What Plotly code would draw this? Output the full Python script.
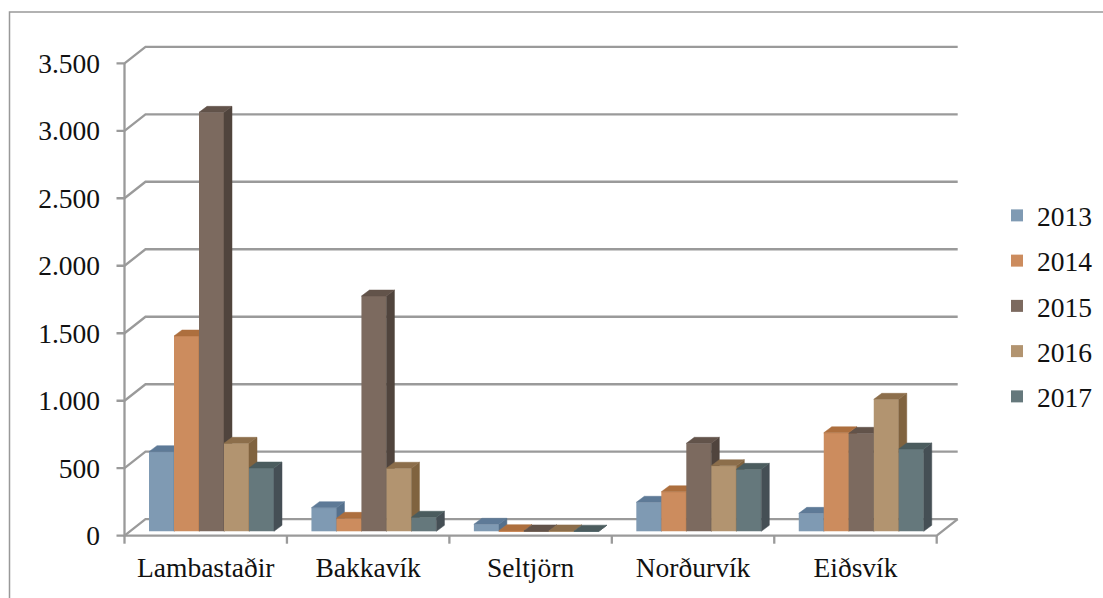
import plotly.graph_objects as go

categories = ["Lambastaðir", "Bakkavík", "Seltjörn", "Norðurvík", "Eiðsvík"]
years = ["2013", "2014", "2015", "2016", "2017"]
v2013 = [590, 175, 52, 215, 133]
v2014 = [1447, 96, 5, 293, 730]
v2015 = [3104, 1743, 3, 652, 726]
v2016 = [652, 467, 3, 486, 978]
v2017 = [469, 104, 1, 459, 610]
series = [v2013, v2014, v2015, v2016, v2017]
tick_vals = [0, 500, 1000, 1500, 2000, 2500, 3000, 3500]
tick_text = ["0", "500", "1.000", "1.500", "2.000", "2.500", "3.000", "3.500"]

front = ["#7F9AB3", "#CC8C5E", "#7C6A5F", "#B29470", "#65787C"]
tops = ["#5E7A97", "#AD6F3E", "#62534A", "#8C6E4B", "#4B5C5E"]
sides = ["#55708C", "#A0683A", "#50443D", "#80633F", "#454F55"]

W, H = 1103, 598
L, R, T, B = 124.5, 936.7, 63.3, 535.7   # front plane of the chart, in pixels
AL, AR, AT, AB = 116.0, 960.0, 44.0, 545.0  # plot area, includes back wall and tick stubs
PX_X = 5 / (R - L)
PX_Y = 3500 / (B - T)
GRID = "#9A9A9A"
TEXT = "#111111"
FONT = "Liberation Serif"
FS = 27.5

x_range = [-0.5 - (L - AL) * PX_X, 4.5 + (AR - R) * PX_X]
y_range = [-(AB - B) * PX_Y, 3500 + (T - AT) * PX_Y]

wall_dx, wall_dy = 21 * PX_X, 16.5 * PX_Y   # back wall offset
bar_dx, bar_dy = 8 * PX_X, 6 * PX_Y         # bar depth
floor = 4.4 * PX_Y                          # bars stand in the middle of the floor
bar_w = 25 * PX_X
start = -0.5 + 24.5 * PX_X
stub_x, stub_y = 8 * PX_X, 8 * PX_Y

fig = go.Figure()

# wall grid with its diagonal returns, axis lines and tick stubs
gx, gy = [], []
for v in tick_vals:
    gx += [-0.5 - stub_x, -0.5, -0.5 + wall_dx, 4.5 + wall_dx, None]
    gy += [v, v, v + wall_dy, v + wall_dy, None]
gx += [4.5 + wall_dx, 4.5, -0.5, -0.5, None]
gy += [wall_dy, 0, 0, 3500, None]
for b in [-0.5, 0.5, 1.5, 2.5, 3.5, 4.5]:
    gx += [b, b, None]
    gy += [0, -stub_y, None]
fig.add_trace(go.Scatter(x=gx, y=gy, mode="lines", line=dict(color=GRID, width=2.3),
                         showlegend=False, hoverinfo="skip"))

# each series sits on its own overlaid axes so that it paints over the one before it
for s, vals in enumerate(series):
    xa, ya = f"x{s + 2}", f"y{s + 2}"
    xs = [i + start + (s + 0.5) * bar_w for i in range(len(categories))]
    fig.add_trace(go.Bar(x=xs, y=vals, base=floor, width=bar_w, name=years[s], opacity=1,
                         marker=dict(color=front[s], opacity=1, line=dict(width=0)),
                         xaxis=xa, yaxis=ya, legendgroup=years[s]))
    sx, sy, tx, ty = [], [], [], []
    for x, v in zip(xs, vals):
        x1 = x + bar_w / 2
        x0 = x - bar_w / 2
        y1 = floor + v
        sx += [x1, x1 + bar_dx, x1 + bar_dx, x1, x1, None]
        sy += [floor, floor + bar_dy, y1 + bar_dy, y1, floor, None]
        tx += [x0, x0 + bar_dx, x1 + bar_dx, x1, x0, None]
        ty += [y1, y1 + bar_dy, y1 + bar_dy, y1, y1, None]
    for px, py, col in ((sx, sy, sides[s]), (tx, ty, tops[s])):
        fig.add_trace(go.Scatter(x=px, y=py, mode="lines", fill="toself", fillcolor=col,
                                 line=dict(color=col, width=0.5), showlegend=False,
                                 hoverinfo="skip", xaxis=xa, yaxis=ya))

pw, ph = AR - AL, AB - AT
layout = dict(
    width=W, height=H, autosize=False,
    margin=dict(l=AL, r=W - AR, t=AT, b=H - AB, pad=0, autoexpand=False),
    paper_bgcolor="white", plot_bgcolor="rgba(0,0,0,0)",
    barmode="group", showlegend=True,
    font=dict(family=FONT, size=FS, color=TEXT),
    legend=dict(x=(997 - AL) / pw, xanchor="left", y=(AB - 191) / ph, yanchor="top",
                font=dict(family=FONT, size=FS, color=TEXT), traceorder="grouped",
                tracegroupgap=6.5, itemwidth=30, bgcolor="rgba(0,0,0,0)"),
    xaxis=dict(range=x_range, tickmode="array", tickvals=list(range(5)), ticktext=categories,
               ticks="", showgrid=False, zeroline=False, showline=False,
               ticklabelstandoff=3, tickfont=dict(family=FONT, size=FS, color=TEXT)),
    yaxis=dict(range=y_range, tickmode="array", tickvals=tick_vals, ticktext=tick_text,
               ticks="", showgrid=False, zeroline=False, showline=False, ticklabelstandoff=15,
               tickfont=dict(family=FONT, size=FS, color=TEXT)),
    shapes=[dict(type="path", xref="paper", yref="paper", layer="below",
                 path="M {} {} L {} {} L {} {}".format(
                     (9.5 - AL) / pw, (AB - 600) / ph,
                     (9.5 - AL) / pw, (AB - 12) / ph,
                     (1105 - AL) / pw, (AB - 12) / ph),
                 line=dict(color="#999999", width=1.5))],
)
for k in range(2, 7):
    layout[f"xaxis{k}"] = dict(overlaying="x", range=x_range, visible=False)
    layout[f"yaxis{k}"] = dict(overlaying="y", range=y_range, visible=False)
fig.update_layout(**layout)

fig.write_html("out.html", config={"displayModeBar": False},
               post_script="document.body.style.margin='0';document.body.style.overflow='hidden';")
